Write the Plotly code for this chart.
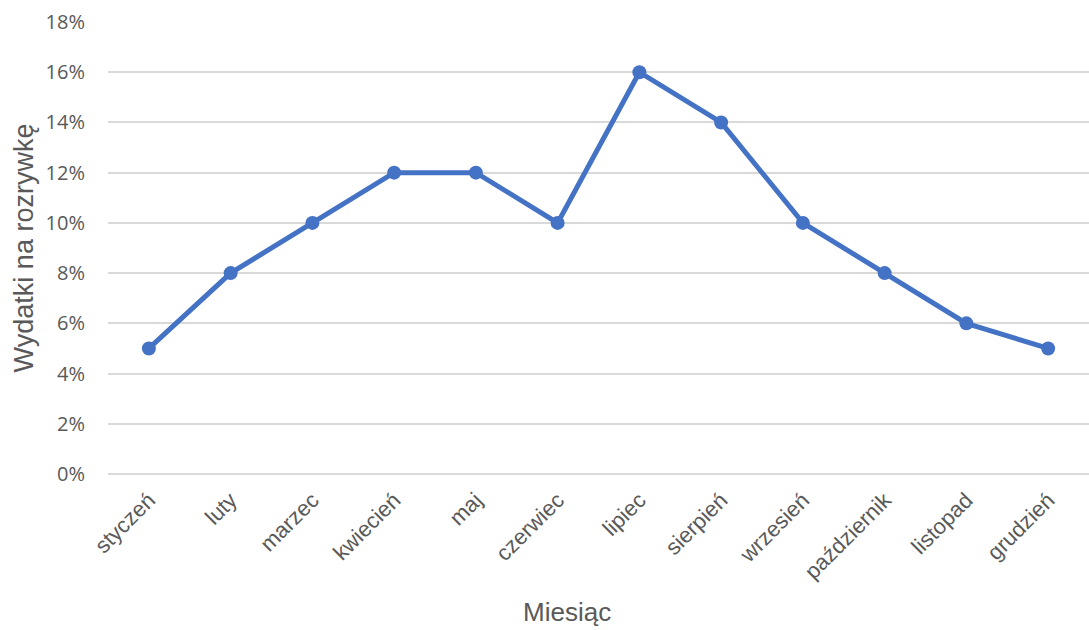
import plotly.graph_objects as go

months = ["styczeń", "luty", "marzec", "kwiecień", "maj", "czerwiec", "lipiec",
          "sierpień", "wrzesień", "październik", "listopad", "grudzień"]
spending = [0.05, 0.08, 0.10, 0.12, 0.12, 0.10, 0.16, 0.14, 0.10, 0.08, 0.06, 0.05]
y_ticks = [0, 0.02, 0.04, 0.06, 0.08, 0.10, 0.12, 0.14, 0.16, 0.18]

W, H = 1089, 630
L, R, T, B = 108, 0, 22, 156

fig = go.Figure(go.Scatter(
    x=months, y=spending, mode="lines+markers",
    line=dict(color="#4472C4", width=5),
    marker=dict(color="#4472C4", size=14),
))

fig.update_layout(
    width=W, height=H,
    margin=dict(l=L, r=R, t=T, b=B),
    paper_bgcolor="white", plot_bgcolor="white",
    showlegend=False,
    font=dict(family="Liberation Sans, Arial, sans-serif", color="#595959"),
)
# x-axis title placed like the reference (centred at ~567 px)
fig.add_annotation(
    text="Miesiąc", showarrow=False,
    xref="paper", yref="paper",
    x=(567 - L) / (W - L - R), y=-(612 - (H - B)) / (H - T - B),
    xanchor="center", yanchor="middle",
    font=dict(size=26, color="#595959", family="Liberation Sans, Arial, sans-serif"),
)
fig.update_xaxes(
    tickangle=-45, tickfont=dict(size=22, color="#595959"),
    showgrid=False, showline=False, ticks="", ticklabelstandoff=8,
    range=[-0.5, 11.5],
)
fig.update_yaxes(
    title=dict(text="Wydatki na rozrywkę", font=dict(size=27, color="#595959"), standoff=4),
    range=[0, 0.18], tickvals=y_ticks, tickformat=".0%",
    tickfont=dict(size=20, family="Open Sans, sans-serif", color="#595959"),
    showgrid=True, gridcolor="#D9D9D9", gridwidth=1.5,
    zeroline=True, zerolinecolor="#D9D9D9", zerolinewidth=1.5,
    showline=False, ticks="", ticklabelstandoff=22,
)

fig.write_html("out.html")
